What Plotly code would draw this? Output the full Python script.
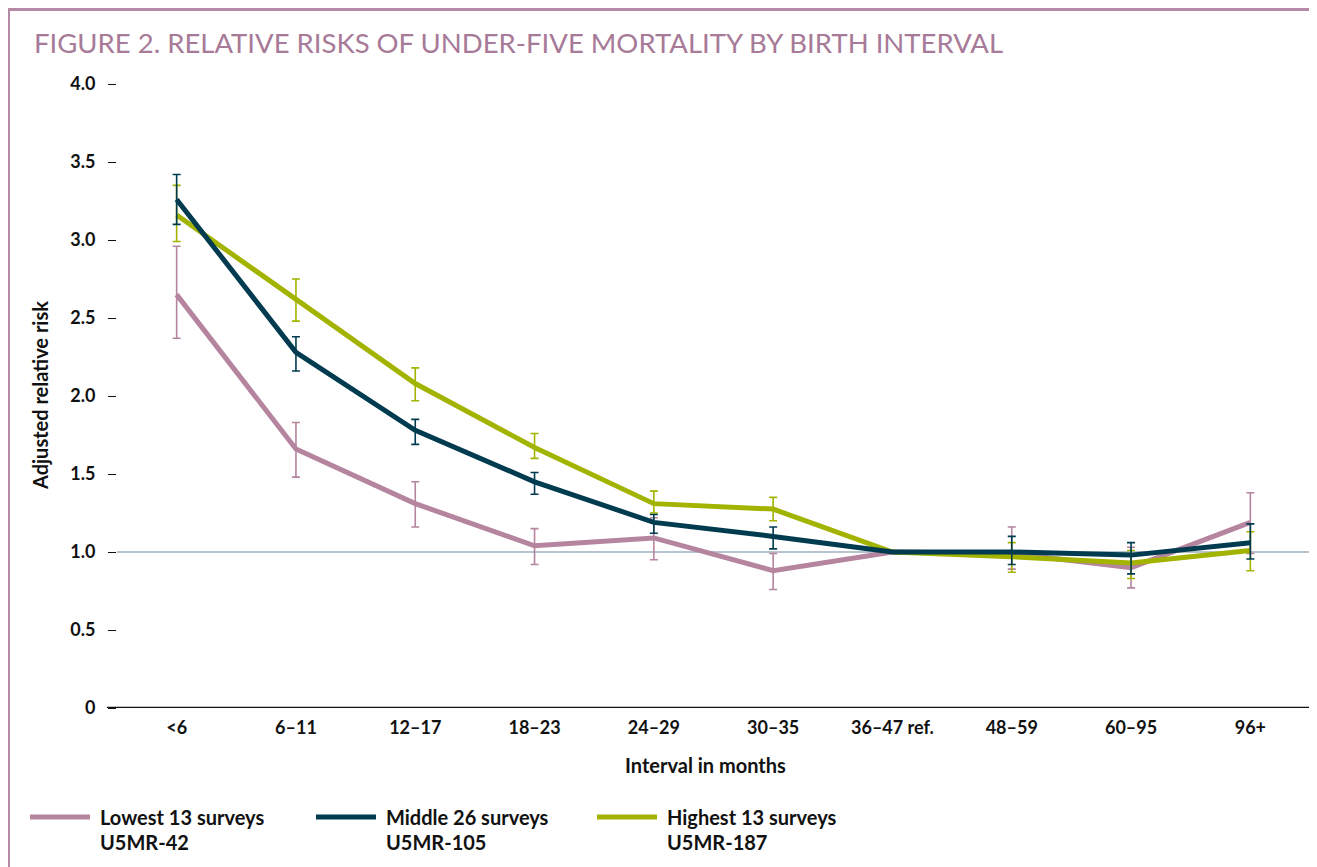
import plotly.graph_objects as go

categories = ["<6", "6\u201311", "12\u201317", "18\u201323", "24\u201329", "30\u201335",
              "36\u201347 ref.", "48\u201359", "60\u201395", "96+"]

lowest = [2.65, 1.66, 1.31, 1.04, 1.09, 0.88, 1.00, 0.99, 0.90, 1.19]
lowest_hi = [2.96, 1.83, 1.45, 1.15, 1.22, 0.99, None, 1.16, 1.03, 1.38]
lowest_lo = [2.37, 1.48, 1.16, 0.92, 0.95, 0.76, None, 0.89, 0.77, 0.99]

middle = [3.26, 2.28, 1.78, 1.45, 1.19, 1.10, 1.00, 1.00, 0.98, 1.06]
middle_hi = [3.42, 2.38, 1.85, 1.51, 1.24, 1.16, None, 1.10, 1.06, 1.18]
middle_lo = [3.10, 2.16, 1.69, 1.37, 1.12, 1.02, None, 0.92, 0.86, 0.955]

highest = [3.16, 2.62, 2.08, 1.67, 1.31, 1.275, 1.00, 0.97, 0.93, 1.01]
highest_hi = [3.35, 2.75, 2.18, 1.76, 1.39, 1.35, None, 1.06, 1.01, 1.13]
highest_lo = [2.99, 2.48, 1.97, 1.60, 1.25, 1.20, None, 0.87, 0.83, 0.88]

y_ticks = [0, 0.5, 1.0, 1.5, 2.0, 2.5, 3.0, 3.5, 4.0]
y_ticktext = ["0", "0.5", "1.0", "1.5", "2.0", "2.5", "3.0", "3.5", "4.0"]

series_names = ["Lowest 13 surveys", "Middle 26 surveys", "Highest 13 surveys"]
series_sub = ["U5MR-42", "U5MR-105", "U5MR-187"]

PINK = "#b5849f"
NAVY = "#003b4f"
GREEN = "#a2b300"
FRAME = "#b58aa6"
FONT = "Lato"

W, H = 1309, 859
L, R, T, B = 109, 7, 76, 159
PW = W - L - R
PH = H - T - B


def px(x):
    return (x - L) / PW


def py(y):
    return 1 - (y - T) / PH


def plus(vals, hi):
    return [None if h is None else h - v for v, h in zip(vals, hi)]


def minus(vals, lo):
    return [None if l is None else v - l for v, l in zip(vals, lo)]


fig = go.Figure()

for name, vals, hi, lo, col in [
    (series_names[0], lowest, lowest_hi, lowest_lo, PINK),
    (series_names[2], highest, highest_hi, highest_lo, GREEN),
    (series_names[1], middle, middle_hi, middle_lo, NAVY),
]:
    fig.add_trace(go.Scatter(
        x=categories, y=vals, mode="lines", name=name,
        line=dict(color=col, width=5),
        error_y=dict(type="data", symmetric=False, array=plus(vals, hi),
                     arrayminus=minus(vals, lo), color=col, thickness=1.6, width=4),
        showlegend=False,
    ))

# reference line at 1.0 and base axis line
fig.add_shape(type="line", xref="paper", yref="y", x0=0, x1=1, y0=1, y1=1,
              line=dict(color="#9fb1bd", width=1.5), layer="below")
fig.add_shape(type="line", xref="paper", yref="y", x0=px(L - 10), x1=1, y0=0, y1=0,
              line=dict(color="#111111", width=2.5))

# frame
fig.add_shape(type="line", xref="paper", yref="paper",
              x0=px(0), x1=px(W + 5), y0=py(1.5), y1=py(1.5),
              line=dict(color=FRAME, width=3))
fig.add_shape(type="line", xref="paper", yref="paper",
              x0=px(1), x1=px(1), y0=py(0), y1=py(H + 5),
              line=dict(color=FRAME, width=2))

annotations = [
    dict(text="FIGURE 2. RELATIVE RISKS OF UNDER-FIVE MORTALITY BY BIRTH INTERVAL",
         xref="paper", yref="paper", x=px(24), y=py(34),
         xanchor="left", yanchor="middle", showarrow=False,
         font=dict(family=FONT, size=27.5, color="#a77a98")),
    dict(text="<b>Adjusted relative risk</b>", xref="paper", yref="paper",
         x=px(32), y=0.5, textangle=-90, xanchor="center", yanchor="middle",
         showarrow=False, font=dict(family=FONT, size=20, color="#111111")),
    dict(text="<b>Interval in months</b>", xref="paper", yref="paper",
         x=px(697), y=py(757), xanchor="center", yanchor="middle",
         showarrow=False, font=dict(family=FONT, size=20, color="#111111")),
]

legend_x = [22, 308, 589]
legend_cols = [PINK, NAVY, GREEN]
for lx, col, nm, sub in zip(legend_x, legend_cols, series_names, series_sub):
    fig.add_shape(type="line", xref="paper", yref="paper",
                  x0=px(lx), x1=px(lx + 60), y0=py(809), y1=py(809),
                  line=dict(color=col, width=5))
    annotations.append(dict(text="<b>%s</b>" % nm, xref="paper", yref="paper",
                            x=px(lx + 68), y=py(809),
                            xanchor="left", yanchor="middle", showarrow=False,
                            font=dict(family=FONT, size=20, color="#111111")))
    annotations.append(dict(text="<b>%s</b>" % sub, xref="paper", yref="paper",
                            x=px(lx + 68), y=py(834),
                            xanchor="left", yanchor="middle", showarrow=False,
                            font=dict(family=FONT, size=20, color="#111111")))

fig.update_layout(
    width=W, height=H,
    margin=dict(l=L, r=R, t=T, b=B),
    paper_bgcolor="white", plot_bgcolor="white",
    font=dict(family=FONT, color="#111111"),
    annotations=annotations,
    xaxis=dict(type="category", range=[-0.5, 9.5], showgrid=False, zeroline=False,
               showline=False, ticks="", ticklabelstandoff=7,
               tickfont=dict(family=FONT, size=18, color="#111111", weight="bold")),
    yaxis=dict(range=[0, 4.0], tickvals=y_ticks, ticktext=y_ticktext,
               showgrid=False, zeroline=False, showline=False,
               ticks="outside", ticklen=8, tickwidth=1.2, tickcolor="#111111",
               ticklabelstandoff=9,
               tickfont=dict(family=FONT, size=18, color="#111111", weight="bold")),
)

fig.write_html("out.html")
